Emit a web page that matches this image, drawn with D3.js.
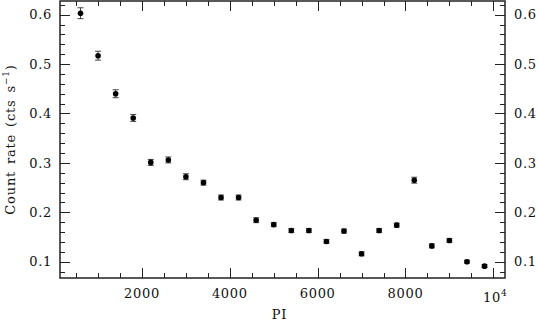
<!DOCTYPE html>
<html>
<head>
<meta charset="utf-8">
<script src="https://cdn.jsdelivr.net/npm/d3@7"></script>
<style>
  body { margin: 0; background: #fff; }
  svg text { font-family: "DejaVu Serif", serif; fill: #111; }
</style>
</head>
<body>
<div id="chart"></div>
<script>
// PI channel centres
var piValues = [600, 1000, 1400, 1800, 2200, 2600, 3000, 3400, 3800, 4200, 4600, 5000,
  5400, 5800, 6200, 6600, 7000, 7400, 7800, 8200, 8600, 9000, 9400, 9800];
// count rate (cts/s)
var rates = [0.603, 0.517, 0.440, 0.391, 0.301, 0.306, 0.272, 0.260, 0.230, 0.230, 0.184, 0.175,
  0.163, 0.163, 0.141, 0.162, 0.116, 0.163, 0.174, 0.265, 0.132, 0.143, 0.100, 0.091];
var rateErrors = [0.011, 0.009, 0.008, 0.007, 0.006, 0.006, 0.006, 0.005, 0.005, 0.005, 0.005, 0.004,
  0.004, 0.004, 0.004, 0.004, 0.004, 0.004, 0.004, 0.006, 0.004, 0.004, 0.003, 0.003];
var xTickLabels = ["2000", "4000", "6000", "8000"];
var yTickLabels = ["0.1", "0.2", "0.3", "0.4", "0.5", "0.6"];

var width = 538, height = 321;
// "top" is reserved on window, so keep the frame edges in one place
var frame = { left: 60, right: 505, top: 1, bottom: 278 };

var svg = d3.select("#chart").append("svg")
  .attr("width", width)
  .attr("height", height);

var x = d3.scaleLinear().domain([133, 10266]).range([frame.left, frame.right]);
var y = d3.scaleLinear().domain([0.067, 0.6277]).range([frame.bottom, frame.top]);

var drawTicks = function() {
  var minorX = d3.range(500, 10001, 500);
  var minorY = d3.range(8, 63, 2).map(function(d) { return d / 100; });
  var g = svg.append("g").attr("stroke", "#222").attr("stroke-width", 1);

  minorX.forEach(function(v) {
    var len = v % 2000 === 0 ? 10 : 5;
    var px = Math.round(x(v)) + 0.5;
    g.append("line").attr("x1", px).attr("x2", px).attr("y1", frame.bottom).attr("y2", frame.bottom - len);
    g.append("line").attr("x1", px).attr("x2", px).attr("y1", frame.top).attr("y2", frame.top + len);
  });
  minorY.forEach(function(v) {
    var major = Math.round(v * 100) % 10 === 0;
    var len = major ? 10 : 5;
    var py = Math.round(y(v)) + 0.5;
    g.append("line").attr("x1", frame.left).attr("x2", frame.left + len).attr("y1", py).attr("y2", py);
    g.append("line").attr("x1", frame.right).attr("x2", frame.right - len).attr("y1", py).attr("y2", py);
  });

  svg.append("rect")
    .attr("x", frame.left).attr("y", frame.top)
    .attr("width", frame.right - frame.left).attr("height", frame.bottom - frame.top)
    .attr("fill", "none").attr("stroke", "#222").attr("stroke-width", 1.5);
}

var drawLabels = function() {
  xTickLabels.forEach(function(t) {
    svg.append("text")
      .attr("x", x(+t)).attr("y", 297.5)
      .attr("text-anchor", "middle")
      .style("font-size", "13px").style("letter-spacing", "0.7px")
      .text(t);
  });
  var ten = svg.append("text")
    .attr("x", x(10000) + 2).attr("y", 301.5)
    .attr("text-anchor", "middle")
    .style("font-size", "13px").style("letter-spacing", "0.7px");
  ten.append("tspan").text("10");
  ten.append("tspan").attr("dy", -6).style("font-size", "9px").text("4");

  yTickLabels.forEach(function(t) {
    svg.append("text")
      .attr("x", 52).attr("y", y(+t) + 4.7)
      .attr("text-anchor", "end")
      .style("font-size", "13px").style("letter-spacing", "0.7px")
      .text(t);
    svg.append("text")
      .attr("x", 514).attr("y", y(+t) + 4.7)
      .attr("text-anchor", "start")
      .style("font-size", "13px").style("letter-spacing", "0.7px")
      .text(t);
  });

  svg.append("text")
    .attr("x", (frame.left + frame.right) / 2 - 3).attr("y", 318.5)
    .attr("text-anchor", "middle")
    .style("font-size", "13px").style("letter-spacing", "0.7px")
    .text("PI");

  var yTitle = svg.append("text")
    .attr("transform", "translate(15," + ((frame.top + frame.bottom) / 2) + ") rotate(-90)")
    .attr("text-anchor", "middle")
    .style("font-size", "13px").style("letter-spacing", "0.8px").style("word-spacing", "2px");
  yTitle.append("tspan").text("Count rate (cts s");
  yTitle.append("tspan").attr("dy", -6).style("font-size", "9px").text("\u22121");
  yTitle.append("tspan").attr("dy", 6).text(")");
}

var drawPoints = function() {
  var data = piValues.map(function(v, i) {
    return { pi: v, rate: rates[i], err: rateErrors[i] };
  });
  var g = svg.append("g");
  var bars = g.selectAll(".err").data(data).enter().append("g")
    .attr("stroke", "#444").attr("stroke-width", 1);
  bars.append("line")
    .attr("x1", function(d) { return x(d.pi); })
    .attr("x2", function(d) { return x(d.pi); })
    .attr("y1", function(d) { return y(d.rate - d.err); })
    .attr("y2", function(d) { return y(d.rate + d.err); });
  bars.append("line")
    .attr("x1", function(d) { return x(d.pi) - 3; })
    .attr("x2", function(d) { return x(d.pi) + 3; })
    .attr("y1", function(d) { return y(d.rate + d.err); })
    .attr("y2", function(d) { return y(d.rate + d.err); });
  bars.append("line")
    .attr("x1", function(d) { return x(d.pi) - 3; })
    .attr("x2", function(d) { return x(d.pi) + 3; })
    .attr("y1", function(d) { return y(d.rate - d.err); })
    .attr("y2", function(d) { return y(d.rate - d.err); });

  g.selectAll("circle").data(data).enter().append("circle")
    .attr("cx", function(d) { return x(d.pi); })
    .attr("cy", function(d) { return y(d.rate); })
    .attr("r", 2.8)
    .attr("fill", "#000");
}

drawTicks();
drawPoints();
drawLabels();
</script>
</body>
</html>
